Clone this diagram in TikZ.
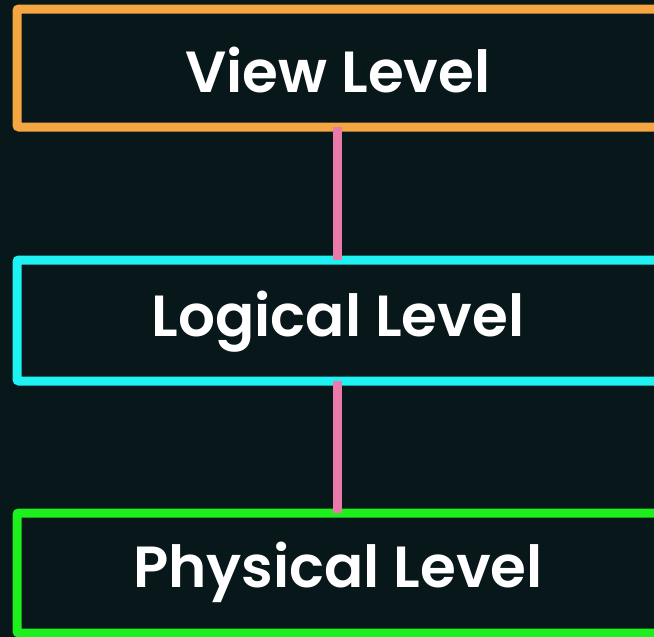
\documentclass[tikz,border=0pt]{standalone}
\usepackage{fontspec}
\setmainfont{Poppins}[UprightFont={* SemiBold}]
\definecolor{bg}{HTML}{07171A}
\definecolor{vieworange}{HTML}{F5A642}
\definecolor{logcyan}{HTML}{1EF2F2}
\definecolor{physgreen}{HTML}{1EF01E}
\definecolor{linkpink}{HTML}{E97AAA}
\begin{document}
\begin{tikzpicture}[x=1pt,y=-1pt,
  levelbox/.style={draw, line width=9pt, fill=bg, rounded corners=2pt, minimum width=660pt, anchor=west, inner sep=0pt, outer sep=0pt},
  leveltext/.style={text=white, font=\fontsize{58}{66}\selectfont},
  link/.style={draw=linkpink, line width=9pt}]
\useasboundingbox (0,0) rectangle (654,637);
\fill[bg] (0,0) rectangle (654,637);
\node[levelbox, draw=vieworange, minimum height=118pt] (view) at (17,68) {};
\node[levelbox, draw=logcyan, minimum height=121pt] (logical) at (17,320.5) {};
\node[levelbox, draw=physgreen, minimum height=120pt] (physical) at (17,573) {};
\draw[link] (view.south -| 337,0) -- (logical.north -| 337,0);
\draw[link] (logical.south -| 337,0) -- (physical.north -| 337,0);
\node[leveltext] (viewt) at (338,70) {View Level};
\node[leveltext] (logicalt) at (338,322) {Logical Level};
\node[leveltext] (physicalt) at (338,572) {Physical Level};
\end{tikzpicture}
\end{document}
